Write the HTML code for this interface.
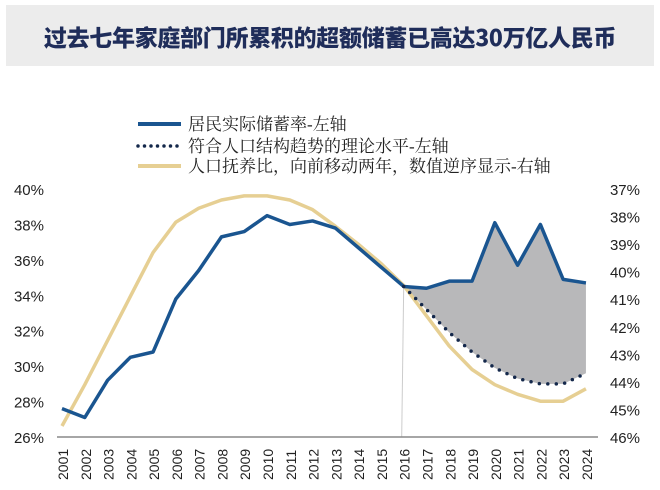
<!DOCTYPE html>
<html><head><meta charset="utf-8"><style>
body{margin:0;background:#fff;width:660px;height:490px;overflow:hidden;font-family:"Liberation Sans","Noto Sans CJK SC",sans-serif}
#hdr{position:absolute;left:6px;top:5px;width:648px;height:61px;background:#ececec}
#title{position:absolute;left:0;top:0;width:660px;height:66px;line-height:72px;text-align:center;font-size:23px;font-weight:900;color:#1f2d5a;letter-spacing:-0.3px;font-family:"Noto Sans CJK SC",sans-serif}
</style></head><body>
<div id="hdr"></div>
<div id="title">过去七年家庭部门所累积的超额储蓄已高达30万亿人民币</div>
<svg id="c" width="660" height="490" style="position:absolute;left:0;top:0"></svg>
<script>
const years=[2001,2002,2003,2004,2005,2006,2007,2008,2009,2010,2011,2012,2013,2014,2015,2016,2017,2018,2019,2020,2021,2022,2023,2024];
const actual=[27.6,27.1,29.2,30.5,30.8,33.8,35.4,37.3,37.6,38.5,38.0,38.2,37.8,36.7,35.6,34.5,34.4,34.8,34.8,38.1,35.7,38.0,34.9,34.7];
const theoryYears=[2016,2017,2018,2019,2020,2021,2022,2023,2024];
const theory=[34.5,33.2,31.9,30.8,29.9,29.3,29.0,29.0,29.6];
const dependency=[45.6,44.1,42.5,40.9,39.3,38.2,37.7,37.4,37.25,37.25,37.4,37.75,38.35,39.0,39.7,40.5,41.6,42.7,43.55,44.1,44.45,44.7,44.7,44.25];
const leftTicks=[26,28,30,32,34,36,38,40];
const rightTicks=[37,38,39,40,41,42,43,44,45,46];
const NS='http://www.w3.org/2000/svg',svg=document.getElementById('c');
const X=y=>62+(y-2001)*22.78;
const YL=v=>437-(v-26)*17.71;
const YR=v=>189+(v-37)*27.56;
function mk(t,a,p){const e=document.createElementNS(NS,t);for(const k in a)e.setAttribute(k,a[k]);(p||svg).appendChild(e);return e;}
const fillPts=[];
theoryYears.forEach(y=>{const i=years.indexOf(y);fillPts.push(X(y)+','+YL(actual[i]));});
for(let j=theoryYears.length-1;j>=0;j--)fillPts.push(X(theoryYears[j])+','+YL(theory[j]));
const fl=mk('polygon',{points:fillPts.join(' '),fill:'#b8b8ba'});


const vl=mk('line',{x1:X(2016),x2:X(2016)-2,y1:YL(actual[15]),y2:437,stroke:'#ccc','stroke-width':1});


const ax=mk('line',{x1:57,x2:598,y1:437,y2:437,stroke:'#888','stroke-width':1.5});


const dl=mk('polyline',{points:years.map((y,i)=>X(y)+','+YR(dependency[i])).join(' '),fill:'none',stroke:'#e6cf93','stroke-width':3.5,'stroke-linejoin':'round'});


const al=mk('polyline',{points:years.map((y,i)=>X(y)+','+YL(actual[i])).join(' '),fill:'none',stroke:'#1a5590','stroke-width':3.5,'stroke-linejoin':'round'});


const tl=mk('polyline',{points:theoryYears.map((y,i)=>X(y)+','+YL(theory[i])).join(' '),fill:'none',stroke:'#14284b','stroke-width':3.5,'stroke-dasharray':'0 8.5','stroke-linecap':'round'});


leftTicks.forEach(v=>{const t=mk('text',{x:44,y:YL(v)+6,'text-anchor':'end','font-size':15,fill:'#222'});t.textContent=v+'%';

});
rightTicks.forEach(v=>{const t=mk('text',{x:640,y:YR(v)+6,'text-anchor':'end','font-size':15,fill:'#222'});t.textContent=v+'%';

});
years.forEach(y=>{const t=mk('text',{transform:`translate(${X(y)+6},480) rotate(-90)`,'font-size':14,fill:'#222'});t.textContent=y;

});
const lg=[['居民实际储蓄率-左轴','#1a5590',''],['符合人口结构趋势的理论水平-左轴','#14284b','0 6.5'],['人口抚养比，向前移动两年，数值逆序显示-右轴','#e6cf93','']];
lg.forEach((d,i)=>{const y=[124,146,166][i];
const l=mk('line',{x1:138,x2:181,y1:y,y2:y,stroke:d[1],'stroke-width':d[2]?3.5:4,'stroke-dasharray':d[2],'stroke-linecap':d[2]?'round':'butt'});


const t=mk('text',{x:188,y:y+6,'font-size':17,fill:'#222','font-family':'"Liberation Serif","Noto Serif CJK SC",serif'});t.textContent=d[0];

});
</script>
</body></html>
